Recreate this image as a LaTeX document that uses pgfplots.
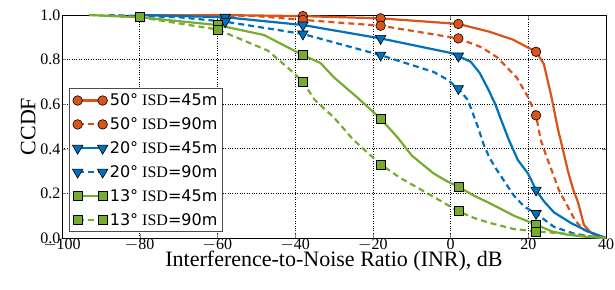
\documentclass[border=0pt]{standalone}
\usepackage{fontspec}
\setmainfont{Liberation Serif}
\newfontfamily\dv{DejaVu Sans}
\usepackage{pgfplots}
\pgfplotsset{compat=1.18}
\definecolor{cO}{RGB}{217,84,26}
\definecolor{cB}{RGB}{0,114,189}
\definecolor{cG}{RGB}{119,172,48}
\begin{document}
\begin{tikzpicture}
\begin{axis}[
  name=ax,
  scale only axis,
  width=544pt, height=223pt,
  xmin=-100, xmax=40, ymin=0, ymax=1,
  xtick={-100,-80,-60,-40,-20,0,20,40},
  ytick={0,0.2,0.4,0.6,0.8,1.0},
  /pgf/number format/assume math mode=true,
  xticklabel={\pgfmathtruncatemacro{\tv}{round(\tick)}\ifnum\tv<0 $-$\pgfmathtruncatemacro{\tw}{-\tv}\tw\else\tv\fi},
  yticklabel={\pgfmathprintnumber[fixed,fixed zerofill,precision=1,assume math mode=true]{\tick}},
  tick align=inside, major tick length=4pt,
  xtick pos=both, ytick pos=both,
  xticklabel pos=lower, yticklabel pos=left,
  xticklabel style={yshift=3pt, font=\fontsize{16}{16}\selectfont},
  yticklabel style={xshift=2pt, font=\fontsize{16}{16}\selectfont},
  grid=major,
  grid style={black, dotted, line width=0.6pt},
  axis line style={black, line width=0.8pt},
  xlabel={Interference-to-Noise Ratio (INR), dB},
  ylabel={CCDF},
  label style={font=\fontsize{22}{22}\selectfont},
  xlabel style={yshift=6pt},
  ylabel style={yshift=-2pt},
  legend style={at={(0.013,0.027)}, anchor=south west,
    font=\fontsize{16}{16}\selectfont, draw=black!70, line width=0.8pt,
    row sep=6.5pt, inner sep=3pt, cells={anchor=west}},
  legend image code/.code={
    \draw[#1, mark indices={1,3}] plot coordinates {(0pt,0pt)(12.5pt,0pt)(25pt,0pt)};
  },
  every axis plot/.append style={line width=2.2pt},
]
% 50 deg ISD=45m
\addplot[cO, mark=*, mark size=4.8pt, mark options={solid, draw=black, line width=0.6pt, fill=cO}, mark indices={3,4,5,8}] coordinates {
(-80,1)(-60,1.0)(-38,0.995)(-18,0.985)(2,0.96)(10,0.925)(16,0.89)(22,0.835)(24,0.78)(26,0.63)(27.6,0.49)(29,0.39)(30.2,0.30)(31.5,0.22)(32.8,0.16)(34.3,0.06)(36,0.025)(38,0.01)(40,0)};
\addlegendentry{{\dv 50°} ISD{\dv =45m}}
% 50 deg ISD=90m
\addplot[cO, dash pattern=on 6pt off 4pt, mark=*, mark size=4.8pt, mark options={solid, draw=black, line width=0.6pt, fill=cO}, mark indices={3,4,5,10}] coordinates {
(-70,1)(-50,0.995)(-38,0.978)(-18,0.952)(2,0.895)(8,0.855)(12,0.81)(17,0.72)(20,0.63)(22,0.55)(23.2,0.44)(24.8,0.36)(26.3,0.29)(28,0.21)(30.2,0.14)(32,0.08)(34,0.04)(37,0.015)(40,0)};
\addlegendentry{{\dv 50°} ISD{\dv =90m}}
% 20 deg ISD=45m
\addplot[cB, mark=triangle*, mark size=6pt, mark options={solid, draw=black, line width=0.6pt, fill=cB, rotate=180}, mark indices={2,3,4,6,15}] coordinates {
(-80,1)(-58,0.99)(-38,0.955)(-18,0.895)(0,0.83)(2,0.816)(5.2,0.79)(7.5,0.74)(9.6,0.67)(11.5,0.6)(13,0.53)(15,0.44)(17.3,0.35)(19.9,0.29)(22,0.215)(24,0.165)(26.6,0.115)(31,0.067)(35.3,0.03)(40,0)};
\addlegendentry{{\dv 20°} ISD{\dv =45m}}
% 20 deg ISD=90m
\addplot[cB, dash pattern=on 6pt off 4pt, mark=triangle*, mark size=6pt, mark options={solid, draw=black, line width=0.6pt, fill=cB, rotate=180}, mark indices={3,4,5,8,16}] coordinates {
(-88,1)(-70,0.99)(-58,0.97)(-38,0.915)(-18,0.82)(-4.4,0.745)(-0.8,0.71)(2,0.67)(4.4,0.62)(7,0.50)(8.5,0.42)(10,0.36)(12.1,0.30)(16.3,0.19)(19,0.14)(22,0.11)(26.6,0.05)(31.7,0.02)(36,0.007)(40,0)};
\addlegendentry{{\dv 20°} ISD{\dv =90m}}
% 13 deg ISD=45m
\addplot[cG, mark=square*, mark size=4.5pt, mark options={solid, draw=black, line width=0.6pt, fill=cG}, mark indices={2,3,5,9,14,19}] coordinates {
(-93,1)(-80,0.99)(-60,0.955)(-48,0.91)(-38,0.82)(-33.5,0.785)(-30,0.72)(-24,0.63)(-18,0.535)(-13.6,0.45)(-10,0.37)(-4.4,0.29)(-1,0.255)(2,0.23)(6,0.19)(9.6,0.16)(13,0.13)(16.3,0.10)(22,0.06)(26,0.03)(30,0.015)(35,0.005)(40,0)};
\addlegendentry{{\dv 13°} ISD{\dv =45m}}
% 13 deg ISD=90m
\addplot[cG, dash pattern=on 6pt off 4pt, mark=square*, mark size=4.5pt, mark options={solid, draw=black, line width=0.6pt, fill=cG}, mark indices={2,3,6,10,13,17}] coordinates {
(-93,1)(-80,0.99)(-60,0.935)(-47,0.84)(-41,0.75)(-38,0.70)(-35,0.62)(-30,0.54)(-25,0.44)(-18,0.33)(-13,0.27)(-4.4,0.185)(2,0.12)(6,0.09)(9.6,0.07)(16.3,0.04)(22,0.03)(29,0.02)(35,0.008)(40,0)};
\addlegendentry{{\dv 13°} ISD{\dv =90m}}
\end{axis}
\pgfresetboundingbox
\path ([xshift=-62pt,yshift=-51pt]ax.south west) rectangle ([xshift=9pt,yshift=15pt]ax.north east);
\end{tikzpicture}
\end{document}
